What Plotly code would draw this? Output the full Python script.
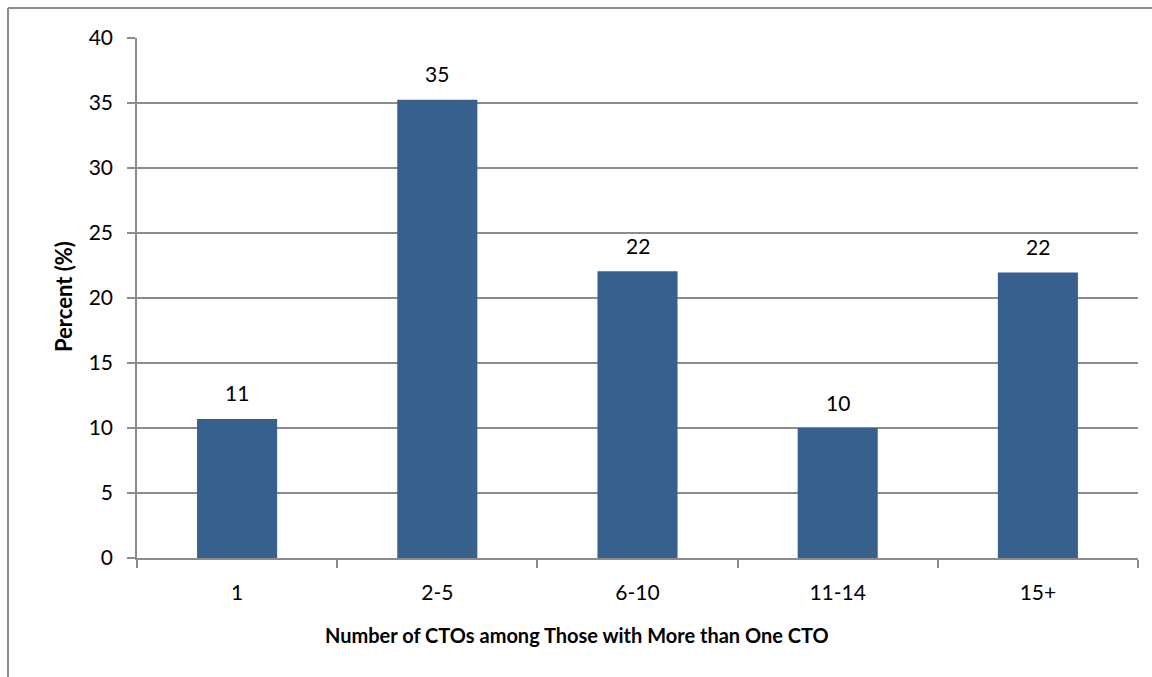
import plotly.graph_objects as go

categories = ["1", "2-5", "6-10", "11-14", "15+"]
values = [10.7, 35.25, 22.05, 10.0, 21.97]
labels = ["11", "35", "22", "10", "22"]
y_ticks = [0, 5, 10, 15, 20, 25, 30, 35, 40]

W, H = 1152, 677
L, R, T, B = 137, 14, 38, 119
pw, ph = W - L - R, H - T - B

def px_x(p):
    return (p - L) / pw

def px_y(p):
    return (H - B - p) / ph

FONT = "Lato"
GRID = "#8c8c8c"
FS = 21

fig = go.Figure()
fig.add_trace(go.Bar(
    x=list(range(len(categories))), y=values,
    marker=dict(color="#37608F", line=dict(width=0)),
    hovertext=categories, hoverinfo="text+y",
))

for i, (v, t) in enumerate(zip(values, labels)):
    fig.add_annotation(x=i, y=v, xref="x", yref="y", text=t, showarrow=False,
                       yshift=26, font=dict(family=FONT, size=FS, color="#000000"))

fig.add_annotation(x=px_x(577), y=px_y(635), xref="paper", yref="paper",
                   text="<b>Number of CTOs among Those with More than One CTO</b>",
                   showarrow=False, font=dict(family=FONT, size=20, color="#000000"),
                   xanchor="center", yanchor="middle")
fig.add_annotation(x=px_x(63), y=px_y(297), xref="paper", yref="paper",
                   text="<b>Percent (%)</b>", textangle=-90,
                   showarrow=False, font=dict(family=FONT, size=22, color="#000000"),
                   xanchor="center", yanchor="middle")

# chart border (left and top edges visible)
fig.add_shape(type="line", xref="paper", yref="paper",
              x0=px_x(8), x1=px_x(8), y0=px_y(8), y1=px_y(700),
              line=dict(color="#8c8c8c", width=2))
fig.add_shape(type="line", xref="paper", yref="paper",
              x0=px_x(8), x1=px_x(1200), y0=px_y(8), y1=px_y(8),
              line=dict(color="#8c8c8c", width=2))

fig.update_layout(
    width=W, height=H,
    margin=dict(l=L, r=R, t=T, b=B, pad=0),
    paper_bgcolor="white", plot_bgcolor="white",
    bargap=0.6,
    showlegend=False,
    font=dict(family=FONT, size=FS, color="#000000"),
    xaxis=dict(
        range=[-0.5, len(categories) - 0.5],
        tickvals=list(range(len(categories))),
        ticktext=categories,
        showgrid=False,
        showline=True, linecolor=GRID, linewidth=1.5,
        ticks="",
        tickfont=dict(family=FONT, size=FS, color="#000000"),
        ticklabelstandoff=15,
        zeroline=False,
        minor=dict(tickvals=[i - 0.5 for i in range(len(categories) + 1)],
                   ticks="outside", ticklen=8, tickcolor=GRID, tickwidth=1.5,
                   showgrid=False),
    ),
    yaxis=dict(
        range=[0, 40],
        tickvals=y_ticks,
        showgrid=True, gridcolor=GRID, gridwidth=1.5,
        showline=True, linecolor=GRID, linewidth=1.5,
        ticks="outside", ticklen=8, tickcolor=GRID, tickwidth=1.5,
        tickfont=dict(family=FONT, size=FS, color="#000000"),
        ticklabelstandoff=10,
        zeroline=False,
    ),
)

fig.write_html("out.html")
